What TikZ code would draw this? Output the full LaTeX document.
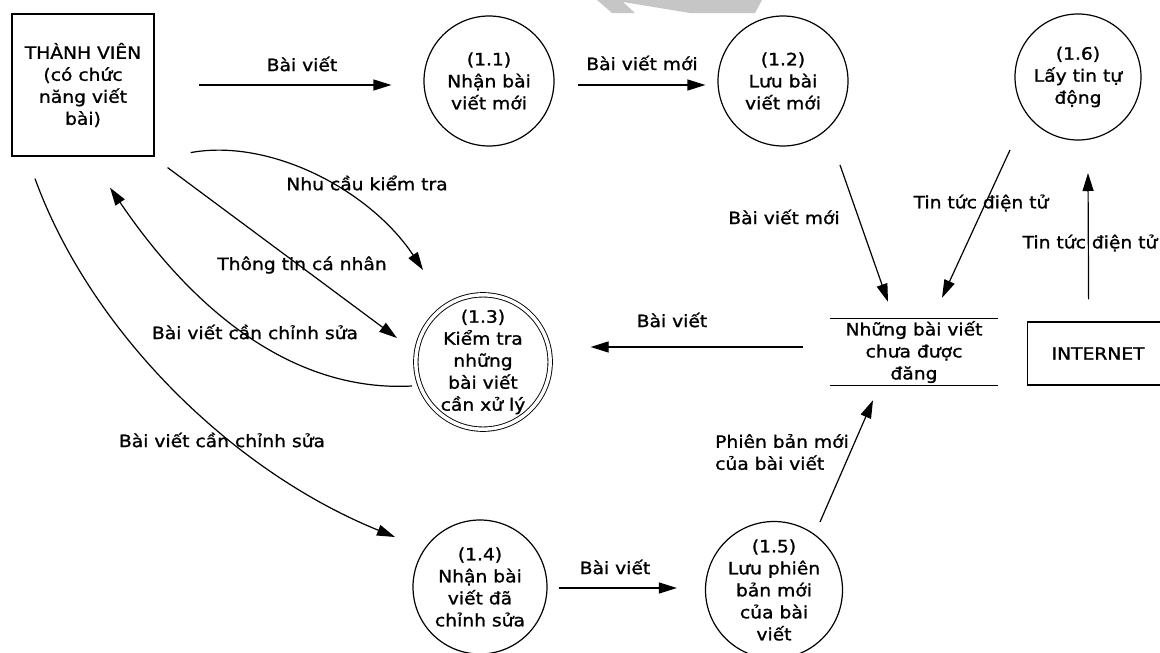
\documentclass[tikz,border=0pt]{standalone}
\usepackage{fontspec}
\setmainfont{DejaVu Sans}[FakeStretch=1.1, FakeBold=1.2]
\usetikzlibrary{arrows.meta}
\newcommand{\dtext}{\fontsize{17}{22}\selectfont}
\tikzset{
  proc/.style={circle, draw, line width=1.2pt, inner sep=0pt, align=center, font=\dtext},
  entity/.style={draw, line width=1.2pt, align=center, font=\dtext},
  flow/.style={line width=1.2pt, -{Triangle[length=18pt,width=11pt]}},
  lbl/.style={inner sep=0pt, font=\dtext},
}
\begin{document}
\begin{tikzpicture}[x=1pt,y=-1pt]
\useasboundingbox (0,0) rectangle (1160,653);
\fill[white] (0,0) rectangle (1160,653);
\clip (0,0) rectangle (1160,653);

% grey mark at the top edge
\fill[gray!45] (597,0) -- (612,13) -- (635,13) -- (623,2) -- (690,13) -- (755,13) -- (762,0) -- cycle;

% external entities
\node[entity, minimum width=142pt, minimum height=142pt] (tv) at (83,85)
  {THÀNH VIÊN\\(có chức\\năng viết\\bài)};
\node[entity, anchor=west, minimum height=63pt, inner sep=0pt, text width=150pt, align=left]
  (inet) at (1027,353.5) {\hspace{24pt}INTERNET};

% processes
\node[proc, minimum size=130pt] (p11) at (489,81) {(1.1)\\Nhận bài\\viết mới};
\node[proc, minimum size=130pt] (p12) at (783,81) {(1.2)\\Lưu bài\\viết mới};
\node[proc, minimum size=126pt] (p16) at (1078,77) {(1.6)\\Lấy tin tự\\động};
\node[proc, line width=0.9pt, double, double distance=3.5pt, minimum size=130pt] (p13) at (483,362)
  {(1.3)\\Kiểm tra\\những\\bài viết\\cần xử lý};
\node[proc, minimum size=134pt] (p14) at (480,587) {(1.4)\\Nhận bài\\viết đã\\chỉnh sửa};
\node[proc, minimum size=136pt] (p15) at (774,590) {(1.5)\\Lưu phiên\\bản mới\\của bài\\viết};

% data store
\node[font=\dtext, align=center, minimum width=168pt, minimum height=66pt, inner sep=0pt] (ds) at (914,352)
  {Những bài viết\\chưa được\\đăng};
\draw[line width=1.2pt] (ds.north west) -- (ds.north east) (ds.south west) -- (ds.south east);

% straight flows
\draw[flow, shorten <=44pt, shorten >=32pt] (tv.east) -- (tv.east -| p11.west);
\draw[flow, shorten <=23pt, shorten >=12pt] ([yshift=-4pt]p11.east) -- ([yshift=-4pt]p11.east -| p12.west);
\draw[flow] ([shift={(57,84)}]p12.center) -- ([shift={(-26,-17)}]ds.north);
\draw[flow] ([shift={(-68,73)}]p16.center) -- ([shift={(28,-21)}]ds.north);
\draw[flow] ([shift={(-14,-22)}]inet.north) -- ([shift={(10,96)}]p16.center);
\draw[flow] ([shift={(-27,-5)}]ds.west) -- ([shift={(40,-15)}]p13.east);
\draw[flow] ([shift={(46,-68)}]p15.center) -- ([shift={(-41,15)}]ds.south);
\draw[flow] ([shift={(11,1)}]p14.east) -- ([shift={(-28,-2)}]p15.west);
\draw[flow] ([shift={(13,11)}]tv.south east) -- ([shift={(-86,-24)}]p13.center);

% curved flows
\draw[flow] ([shift={(36,-4)}]tv.south east) .. controls (270,138) and (370,190) .. ([shift={(-60,-92)}]p13.center);
\draw[flow] ([shift={(-71,24)}]p13.center) .. controls (300,392) and (200,320) .. ([shift={(27,31)}]tv.south);
\draw[flow] ([shift={(-48,22)}]tv.south) .. controls (90,330) and (230,470) .. ([shift={(-85,-50)}]p14.center);

% flow labels
\node[lbl] (l1) at (302,64) {Bài viết};
\node[lbl] (l2) at (642,63) {Bài viết mới};
\node[lbl] (l3) at (784,217) {Bài viết mới};
\node[lbl] (l4) at (981,203) {Tin tức điện tử};
\node[lbl] (l5) at (1090,243) {Tin tức điện tử};
\node[lbl] (l6) at (672,320) {Bài viết};
\node[lbl] (l7) at (367,183) {Nhu cầu kiểm tra};
\node[lbl] (l8) at (302,265) {Thông tin cá nhân};
\node[lbl] (l9) at (255,332) {Bài viết cần chỉnh sửa};
\node[lbl] (l10) at (222,440) {Bài viết cần chỉnh sửa};
\node[lbl, anchor=west, align=left] (l11) at (715,452) {Phiên bản mới\\của bài viết};
\node[lbl] (l12) at (615,567) {Bài viết};
\end{tikzpicture}
\end{document}
